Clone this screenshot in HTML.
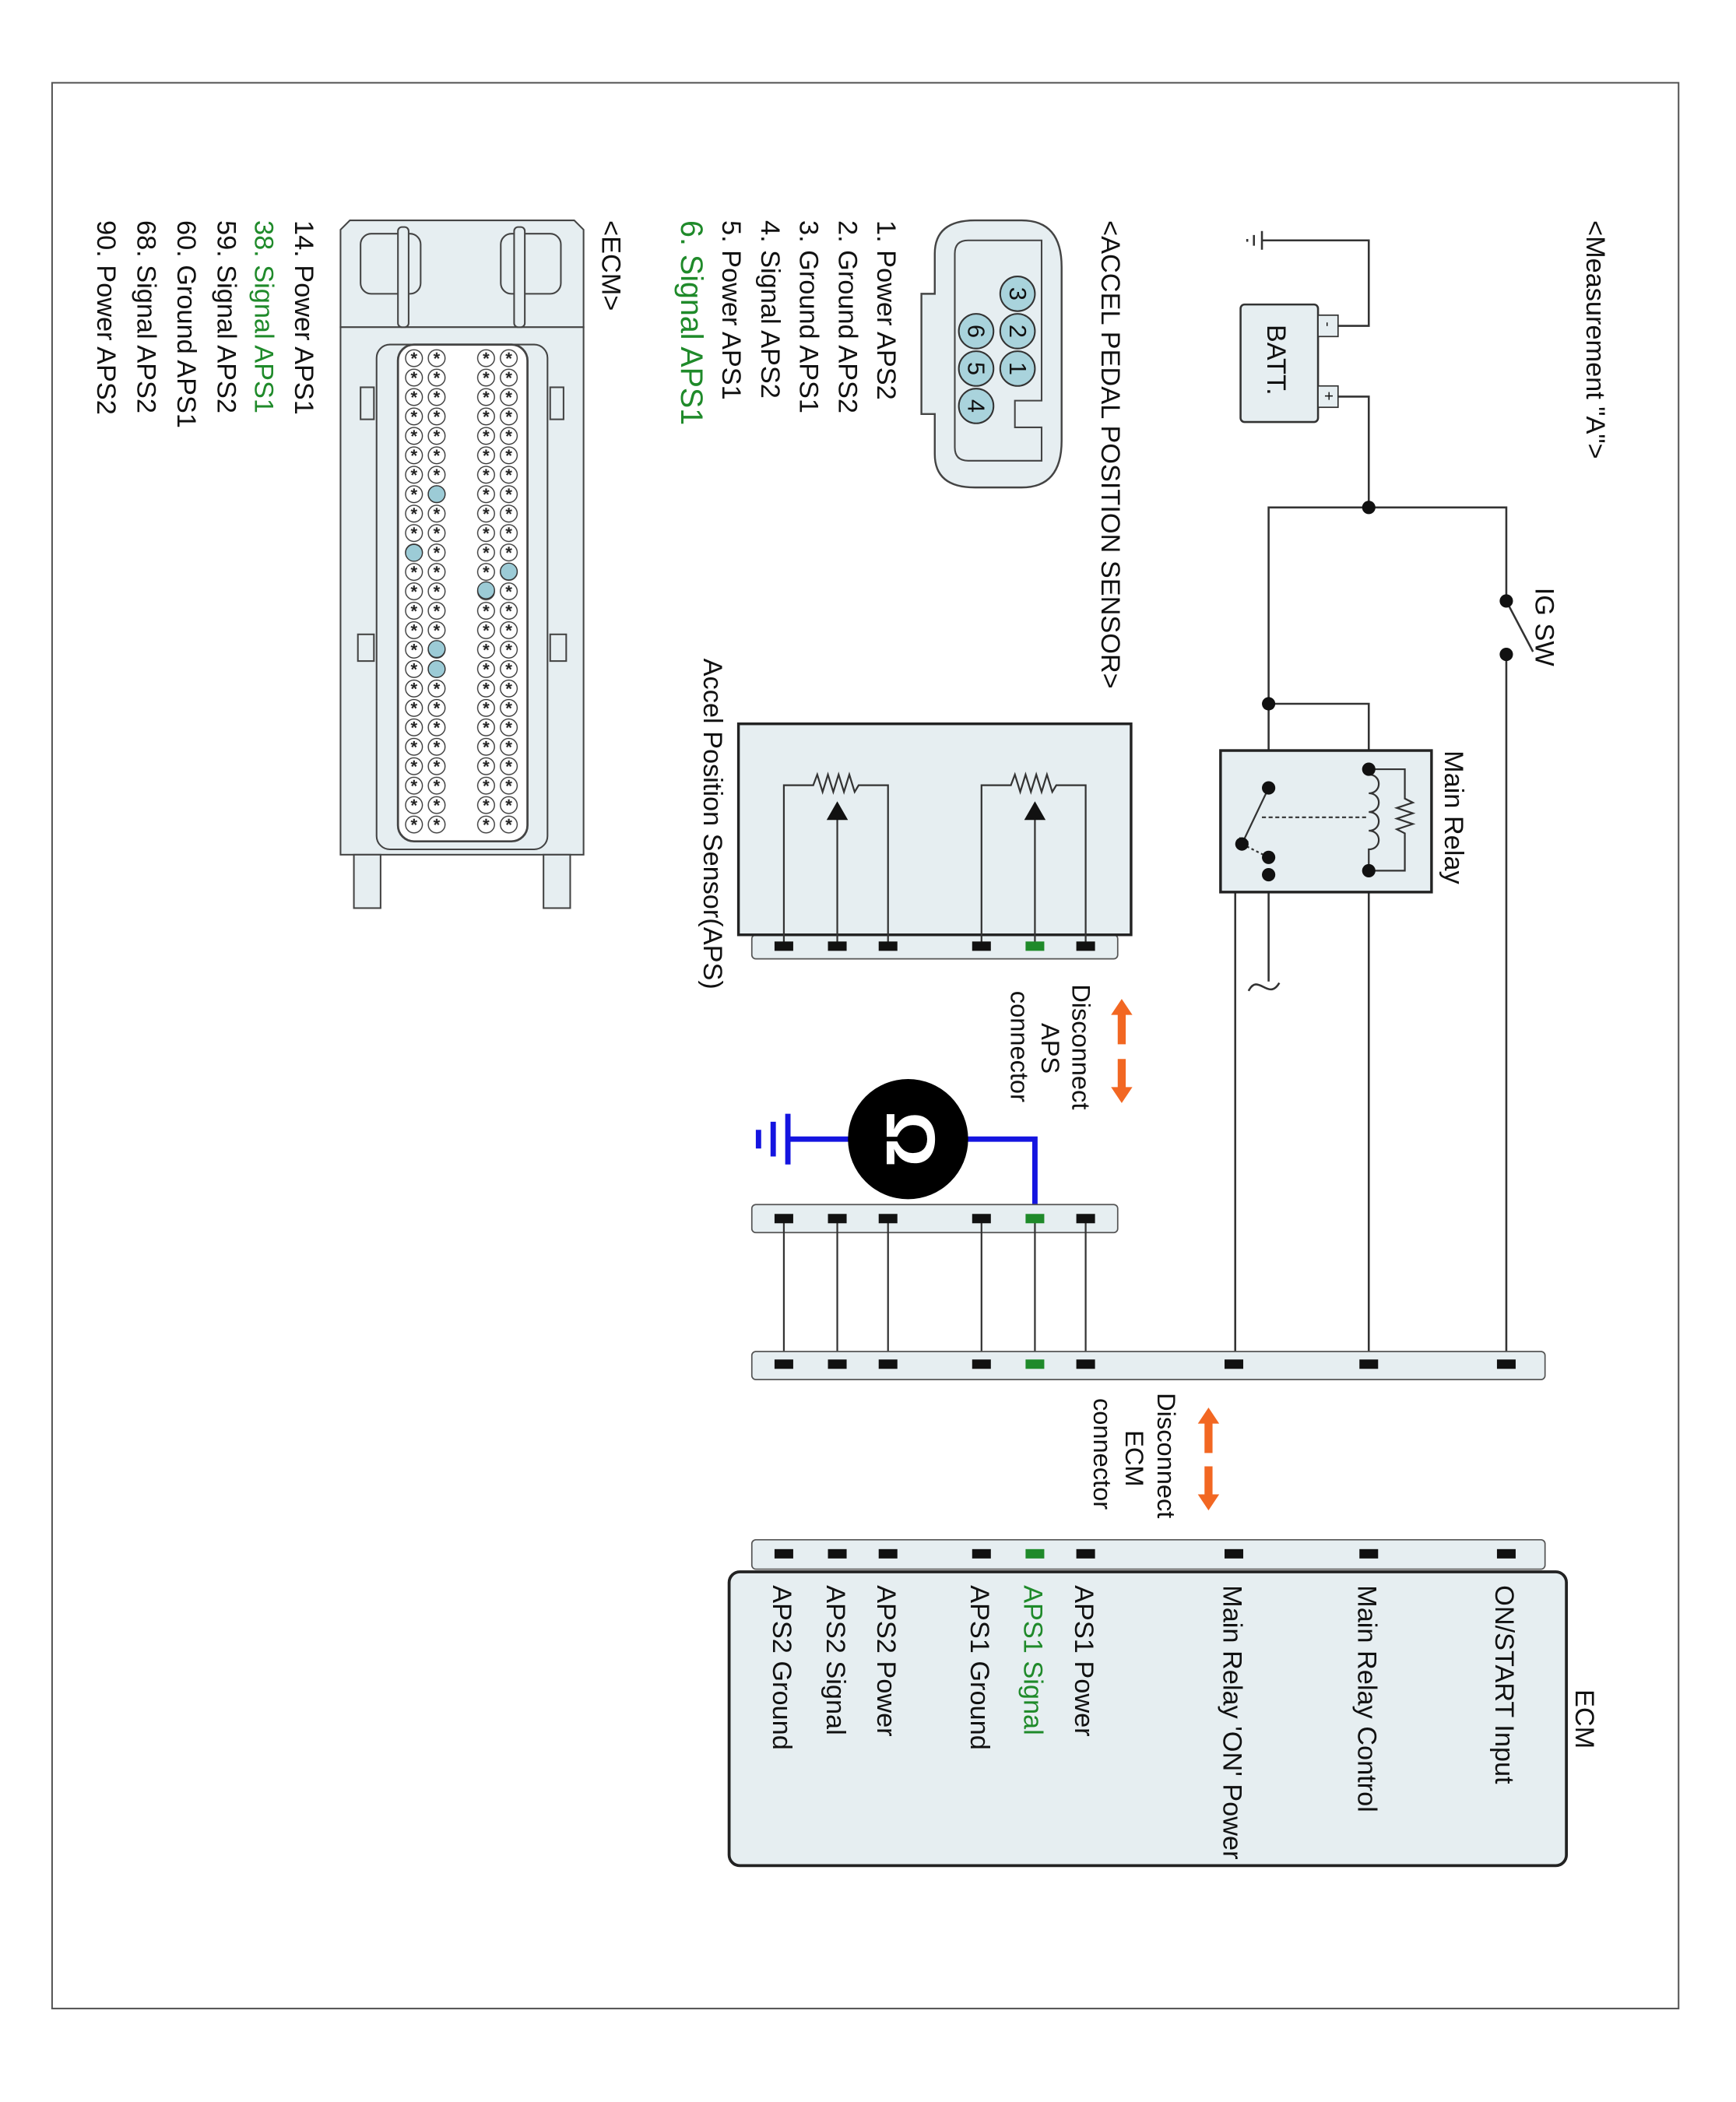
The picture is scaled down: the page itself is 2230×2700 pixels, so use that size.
<!DOCTYPE html>
<html><head><meta charset="utf-8"><style>
html,body{margin:0;padding:0;background:#fff}
svg{display:block}
text{font-family:"Liberation Sans",Arial,sans-serif;fill:#111}
</style></head><body>
<svg width="2230" height="2700" viewBox="0 0 1300 1574" xmlns="http://www.w3.org/2000/svg">
<defs>
<pattern id="pinsA" x="372.5" y="261" width="17" height="14.55" patternUnits="userSpaceOnUse">
<circle cx="8.5" cy="7.2" r="6.3" fill="#fff" stroke="#333" stroke-width="0.8"/>
<text x="8.5" y="12" font-size="13" text-anchor="middle" style="fill:#222;font-weight:bold">*</text>
</pattern>
<pattern id="pinsB" x="301.5" y="261" width="17" height="14.55" patternUnits="userSpaceOnUse">
<circle cx="8.5" cy="7.2" r="6.3" fill="#fff" stroke="#333" stroke-width="0.8"/>
<text x="8.5" y="12" font-size="13" text-anchor="middle" style="fill:#222;font-weight:bold">*</text>
</pattern>
<marker id="ah" markerWidth="6" markerHeight="6" refX="3" refY="3" orient="auto"><path d="M0,0 L6,3 L0,6z" fill="#111"/></marker>
</defs>
<rect x="39" y="62" width="1218" height="1442" fill="#fff" stroke="#555" stroke-width="1.2"/>

<text transform="translate(1188,165) rotate(90)" font-size="20">&lt;Measurement "A"&gt;</text>
<text transform="translate(825,165) rotate(90)" font-size="20">&lt;ACCEL PEDAL POSITION SENSOR&gt;</text>
<text transform="translate(451,165) rotate(90)" font-size="20">&lt;ECM&gt;</text>

<rect x="929" y="228" width="58" height="88" rx="3" fill="#e6eef1" stroke="#333" stroke-width="1.5"/>
<text transform="translate(949,243) rotate(90)" font-size="20">BATT.</text>
<rect x="987" y="236" width="15" height="16" fill="#e6eef1" stroke="#333"/>
<rect x="987" y="289" width="15" height="16" fill="#e6eef1" stroke="#333"/>
<text transform="translate(991,241) rotate(90)" font-size="11">-</text>
<text transform="translate(991,293) rotate(90)" font-size="12">+</text>
<g stroke="#333" stroke-width="1.5" fill="none">
<path d="M1002,244 H1025 V180 H945"/>
<path d="M945,173 V187 M939,176 V184 M934,179 V181"/>
<path d="M1002,297 H1025 V380"/>
<path d="M950,735 V380 H1128 V450"/>
<path d="M1128,450 L1148,488"/>
<path d="M1128,490 V1022"/>
<path d="M950,527 H1025 V576"/>
<path d="M1025,652 V1022"/>
<path d="M925,1022 V655 H950"/>
<path d="M935,742 C942,728 950,750 958,736"/>
</g>
<circle cx="1025" cy="380" r="5" fill="#111"/>
<circle cx="1128" cy="450" r="5" fill="#111"/>
<circle cx="1128" cy="490" r="5" fill="#111"/>
<circle cx="950" cy="527" r="5" fill="#111"/>
<text transform="translate(1150,440) rotate(90)" font-size="20">IG SW</text>

<rect x="914" y="562" width="158" height="106" fill="#e6eef1" stroke="#222" stroke-width="2"/>
<text transform="translate(1082,562) rotate(90)" font-size="20">Main Relay</text>
<g stroke="#333" stroke-width="1.3" fill="none">
<path d="M1025,576 H1052 V598 l6,3 -12,4 12,4 -12,4 12,4 -12,4 6,3 V652 H1025"/>
<path d="M1025,580 c10,0 10,14 0,14 c10,0 10,14 0,14 c10,0 10,14 0,14 c10,0 10,14 0,14 V652"/>
<path d="M950,590 L930,632" marker-end="url(#ah)"/>
<path d="M945,612 H1025" stroke-dasharray="3,2"/>
<path d="M930,632 L950,642" stroke-dasharray="2,2"/>
</g>
<circle cx="950" cy="590" r="5" fill="#111"/>
<circle cx="930" cy="632" r="5" fill="#111"/>
<circle cx="950" cy="642" r="5" fill="#111"/>
<circle cx="950" cy="655" r="5" fill="#111"/>
<circle cx="1025" cy="576" r="5" fill="#111"/>
<circle cx="1025" cy="652" r="5" fill="#111"/>

<rect x="563" y="700" width="274" height="18" rx="3" fill="#e6eef1" stroke="#555"/>
<rect x="553" y="542" width="294" height="158" fill="#e6eef1" stroke="#222" stroke-width="2"/>
<g stroke="#333" stroke-width="1.3" fill="none">
<path d="M735,709 V588 H757 l3,-8 4,13 4,-13 4,13 4,-13 4,13 4,-13 4,13 3,-5 H813 V709"/>
<path d="M775,709 V612"/>
<path d="M587,709 V588 H609 l3,-8 4,13 4,-13 4,13 4,-13 4,13 4,-13 4,13 3,-5 H665 V709"/>
<path d="M627,709 V612"/>
</g>
<path d="M767,614 L775,600 L783,614z" fill="#111"/>
<path d="M619,614 L627,600 L635,614z" fill="#111"/>
<text transform="translate(527,493) rotate(90)" font-size="20">Accel Position Sensor(APS)</text>

<g>
<rect x="580" y="705" width="14" height="7" fill="#111"/><rect x="620" y="705" width="14" height="7" fill="#111"/><rect x="658" y="705" width="14" height="7" fill="#111"/><rect x="728" y="705" width="14" height="7" fill="#111"/><rect x="768" y="705" width="14" height="7" fill="#1f8a2a"/><rect x="806" y="705" width="14" height="7" fill="#111"/>
</g>

<text transform="translate(803,737) rotate(90)" font-size="19">Disconnect</text>
<text transform="translate(780,766) rotate(90)" font-size="19">APS</text>
<text transform="translate(757,742) rotate(90)" font-size="19">connector</text>
<g fill="#f26722"><path d="M832,760 L840,748 L848,760 H843 V782 H837 V760z"/><path d="M832,814 L840,826 L848,814 H843 V793 H837 V814z"/></g>

<g stroke="#1414e0" stroke-width="4" fill="none">
<path d="M775,910 V853 H720"/>
<path d="M640,853 H590"/>
<path d="M590,834 V872 M579,840 V866 M568,846 V860"/>
</g>
<circle cx="680" cy="853" r="45" fill="#000"/>
<text transform="translate(664,853) rotate(90)" font-size="52" text-anchor="middle" style="fill:#fff;font-weight:bold">Ω</text>

<rect x="563" y="902" width="274" height="21" rx="3" fill="#e6eef1" stroke="#555"/>
<g stroke="#333" stroke-width="1.3">
<path d="M587,913 V1022 M627,913 V1022 M665,913 V1022 M735,913 V1022 M775,913 V1022 M813,913 V1022"/>
</g>
<g>
<rect x="580" y="909" width="14" height="7" fill="#111"/><rect x="620" y="909" width="14" height="7" fill="#111"/><rect x="658" y="909" width="14" height="7" fill="#111"/><rect x="728" y="909" width="14" height="7" fill="#111"/><rect x="768" y="909" width="14" height="7" fill="#1f8a2a"/><rect x="806" y="909" width="14" height="7" fill="#111"/>
</g>

<rect x="563" y="1012" width="594" height="21" rx="3" fill="#e6eef1" stroke="#555"/>
<g>
<rect x="580" y="1018" width="14" height="7" fill="#111"/><rect x="620" y="1018" width="14" height="7" fill="#111"/><rect x="658" y="1018" width="14" height="7" fill="#111"/><rect x="728" y="1018" width="14" height="7" fill="#111"/><rect x="768" y="1018" width="14" height="7" fill="#1f8a2a"/><rect x="806" y="1018" width="14" height="7" fill="#111"/><rect x="917" y="1018" width="14" height="7" fill="#111"/><rect x="1018" y="1018" width="14" height="7" fill="#111"/><rect x="1121" y="1018" width="14" height="7" fill="#111"/>
</g>

<text transform="translate(867,1043) rotate(90)" font-size="19">Disconnect</text>
<text transform="translate(843,1071) rotate(90)" font-size="19">ECM</text>
<text transform="translate(819,1047) rotate(90)" font-size="19">connector</text>
<g fill="#f26722"><path d="M897,1066 L905,1054 L913,1066 H908 V1088 H902 V1066z"/><path d="M897,1119 L905,1131 L913,1119 H908 V1098 H902 V1119z"/></g>

<rect x="563" y="1153" width="594" height="22" rx="3" fill="#e6eef1" stroke="#555"/>
<g>
<rect x="580" y="1160" width="14" height="7" fill="#111"/><rect x="620" y="1160" width="14" height="7" fill="#111"/><rect x="658" y="1160" width="14" height="7" fill="#111"/><rect x="728" y="1160" width="14" height="7" fill="#111"/><rect x="768" y="1160" width="14" height="7" fill="#1f8a2a"/><rect x="806" y="1160" width="14" height="7" fill="#111"/><rect x="917" y="1160" width="14" height="7" fill="#111"/><rect x="1018" y="1160" width="14" height="7" fill="#111"/><rect x="1121" y="1160" width="14" height="7" fill="#111"/>
</g>
<rect x="546" y="1177" width="627" height="220" rx="8" fill="#e6eef1" stroke="#222" stroke-width="2.2"/>
<text transform="translate(1180,1265) rotate(90)" font-size="20">ECM</text>
<g font-size="20">
<text transform="translate(1120,1187) rotate(90)">ON/START Input</text>
<text transform="translate(1017,1187) rotate(90)">Main Relay Control</text>
<text transform="translate(916,1187) rotate(90)">Main Relay 'ON' Power</text>
<text transform="translate(805,1187) rotate(90)">APS1 Power</text>
<text transform="translate(767,1187) rotate(90)" style="fill:#1f8a2a">APS1 Signal</text>
<text transform="translate(727,1187) rotate(90)">APS1 Ground</text>
<text transform="translate(657,1187) rotate(90)">APS2 Power</text>
<text transform="translate(619,1187) rotate(90)">APS2 Signal</text>
<text transform="translate(579,1187) rotate(90)">APS2 Ground</text>
</g>

<path d="M700,190 Q700,165 730,165 H765 Q795,165 795,200 V330 Q795,365 765,365 H730 Q700,365 700,340 V310 H690 V220 H700z" fill="#e6eef1" stroke="#444" stroke-width="1.4"/>
<path d="M715,190 Q715,180 725,180 H780 V300 H760 V320 H780 V345 H725 Q715,345 715,335z" fill="#e6eef1" stroke="#444" stroke-width="1.2"/>
<g fill="#a9d3dc" stroke="#333" stroke-width="1.2">
<circle cx="762" cy="220" r="13"/><circle cx="762" cy="248" r="13"/><circle cx="762" cy="276" r="13"/>
<circle cx="731" cy="248" r="13"/><circle cx="731" cy="276" r="13"/><circle cx="731" cy="304" r="13"/>
</g>
<g font-size="18" text-anchor="middle">
<text transform="translate(756,220) rotate(90)">3</text><text transform="translate(756,248) rotate(90)">2</text><text transform="translate(756,276) rotate(90)">1</text>
<text transform="translate(725,248) rotate(90)">6</text><text transform="translate(725,276) rotate(90)">5</text><text transform="translate(725,304) rotate(90)">4</text>
</g>
<g font-size="20">
<text transform="translate(657,165) rotate(90)">1. Power APS2</text>
<text transform="translate(628,165) rotate(90)">2. Ground APS2</text>
<text transform="translate(599,165) rotate(90)">3. Ground APS1</text>
<text transform="translate(570,165) rotate(90)">4. Signal APS2</text>
<text transform="translate(541,165) rotate(90)">5. Power APS1</text>
<text transform="translate(510,165) rotate(90)" font-size="23" style="fill:#1f8a2a">6. Signal APS1</text>
</g>

<g stroke="#444" stroke-width="1.2" fill="#e6eef1">
<path d="M262,165 H430 L437,172 V245 H255 V172z"/>
<rect x="255" y="245" width="182" height="395"/>
<rect x="265" y="640" width="20" height="40"/><rect x="407" y="640" width="20" height="40"/>
<rect x="270" y="175" width="45" height="45" rx="8" fill="none"/>
<rect x="375" y="175" width="45" height="45" rx="8" fill="none"/>
<rect x="298" y="170" width="8" height="75" rx="3"/><rect x="385" y="170" width="8" height="75" rx="3"/>
<rect x="270" y="290" width="10" height="24"/><rect x="412" y="290" width="10" height="24"/>
<rect x="268" y="475" width="12" height="20"/><rect x="412" y="475" width="12" height="20"/>
<rect x="282" y="258" width="128" height="378" rx="10"/>
<rect x="298" y="258" width="97" height="372" rx="12" fill="#fff" stroke-width="1.6"/>
</g>
<rect x="355.5" y="261" width="34" height="364" fill="url(#pinsA)"/>
<rect x="301.5" y="261" width="34" height="364" fill="url(#pinsB)"/>
<g fill="#9ccbd6" stroke="#333" stroke-width="0.8">
<circle cx="381" cy="428" r="6.3"/><circle cx="364" cy="442" r="6.3"/>
<circle cx="327" cy="370" r="6.3"/><circle cx="310" cy="414" r="6.3"/>
<circle cx="327" cy="486" r="6.3"/><circle cx="327" cy="501" r="6.3"/>
</g>
<g font-size="20">
<text transform="translate(221,165) rotate(90)">14. Power APS1</text>
<text transform="translate(191,165) rotate(90)" style="fill:#1f8a2a">38. Signal APS1</text>
<text transform="translate(163,165) rotate(90)">59. Signal APS2</text>
<text transform="translate(133,165) rotate(90)">60. Ground APS1</text>
<text transform="translate(103,165) rotate(90)">68. Signal APS2</text>
<text transform="translate(73,165) rotate(90)">90. Power APS2</text>
</g>
</svg>
</body></html>
